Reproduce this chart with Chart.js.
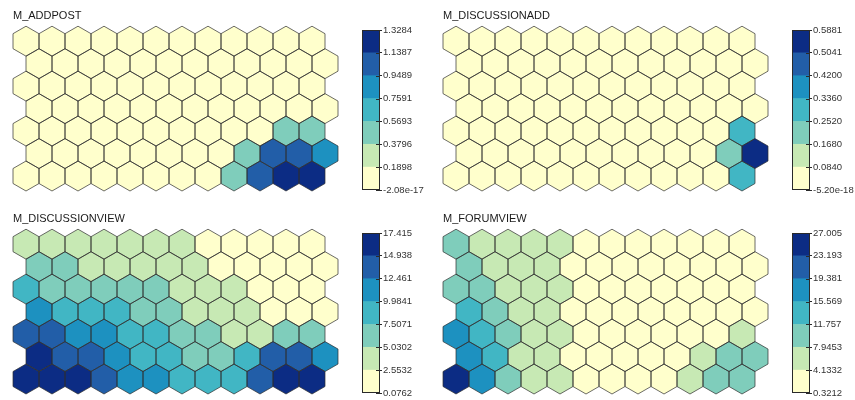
<!DOCTYPE html>
<html>
<head>
<meta charset="utf-8">
<script src="https://cdn.jsdelivr.net/npm/chart.js@4.4.0/dist/chart.umd.min.js"></script>
<style>
  html, body { margin: 0; padding: 0; background: #fff; }
  #page { position: relative; width: 855px; height: 400px; overflow: hidden; }
  .hexbox { position: absolute; width: 340px; height: 196px; }
  .barbox { position: absolute; width: 79px; height: 180px; }
</style>
</head>
<body>
<div id="page"></div>
<script>
// SOM component planes (kohonen style), 12 x 7 hex grid, rows listed top to bottom

const PALETTE = ["#ffffcc", "#c7e9b4", "#7fcdbb", "#41b6c4", "#1d91c0", "#225ea8", "#0c2c84"];

const addpostTicks = ["-2.08e-17", "0.1898", "0.3796", "0.5693", "0.7591", "0.9489", "1.1387", "1.3284"];
const addpostValues = [
  [0.01, 0.01, 0.01, 0.01, 0.01, 0.01, 0.01, 0.01, 0.01, 0.01, 0.01, 0.01],
  [0.01, 0.01, 0.01, 0.01, 0.01, 0.01, 0.01, 0.01, 0.01, 0.01, 0.01, 0.01],
  [0.02, 0.02, 0.02, 0.02, 0.02, 0.02, 0.02, 0.02, 0.02, 0.02, 0.02, 0.02],
  [0.03, 0.03, 0.03, 0.03, 0.03, 0.03, 0.03, 0.03, 0.03, 0.03, 0.03, 0.03],
  [0.02, 0.02, 0.02, 0.02, 0.02, 0.02, 0.03, 0.03, 0.04, 0.06, 0.47, 0.52],
  [0.03, 0.03, 0.03, 0.03, 0.03, 0.03, 0.04, 0.05, 0.45, 1.05, 1.08, 0.88],
  [0.04, 0.04, 0.04, 0.04, 0.04, 0.04, 0.05, 0.08, 0.50, 1.02, 1.25, 1.30]
];

const discAddTicks = ["-5.20e-18", "0.0840", "0.1680", "0.2520", "0.3360", "0.4200", "0.5041", "0.5881"];
const discAddValues = [
  [0.00, 0.00, 0.00, 0.00, 0.00, 0.00, 0.00, 0.00, 0.00, 0.00, 0.00, 0.00],
  [0.00, 0.00, 0.00, 0.00, 0.00, 0.00, 0.00, 0.00, 0.00, 0.00, 0.00, 0.00],
  [0.00, 0.00, 0.00, 0.00, 0.00, 0.00, 0.00, 0.00, 0.00, 0.00, 0.00, 0.00],
  [0.00, 0.00, 0.00, 0.00, 0.00, 0.00, 0.00, 0.00, 0.00, 0.00, 0.00, 0.01],
  [0.00, 0.00, 0.00, 0.00, 0.00, 0.00, 0.00, 0.00, 0.00, 0.00, 0.02, 0.30],
  [0.00, 0.00, 0.00, 0.00, 0.00, 0.00, 0.00, 0.00, 0.00, 0.01, 0.20, 0.57],
  [0.00, 0.00, 0.00, 0.00, 0.00, 0.00, 0.00, 0.00, 0.00, 0.01, 0.03, 0.29]
];

const discViewTicks = ["0.0762", "2.5532", "5.0302", "7.5071", "9.9841", "12.461", "14.938", "17.415"];
const discViewValues = [
  [3.1, 3.4, 3.6, 3.5, 3.3, 3.0, 2.8, 2.2, 1.8, 1.4, 1.1, 0.9],
  [5.6, 5.3, 4.6, 4.2, 3.9, 3.6, 3.2, 2.1, 1.7, 1.3, 1.0, 0.8],
  [8.1, 6.8, 6.5, 6.2, 5.8, 5.4, 4.4, 3.9, 3.3, 2.3, 1.6, 1.2],
  [10.6, 9.2, 8.8, 8.3, 7.2, 6.6, 4.8, 4.1, 3.6, 2.4, 1.9, 1.5],
  [13.8, 13.1, 11.6, 11.0, 9.5, 8.6, 6.9, 6.1, 4.5, 4.2, 5.6, 6.0],
  [16.4, 14.2, 13.3, 10.8, 8.9, 8.2, 6.7, 6.4, 7.9, 13.2, 13.6, 11.4],
  [17.2, 16.6, 15.5, 14.1, 11.5, 11.0, 9.0, 8.4, 8.0, 13.5, 16.3, 16.8]
];

const forumViewTicks = ["0.3212", "4.1332", "7.9453", "11.757", "15.569", "19.381", "23.193", "27.005"];
const forumViewValues = [
  [9.6, 6.4, 5.9, 5.5, 4.8, 3.6, 2.9, 2.4, 1.9, 1.5, 1.2, 0.9],
  [10.2, 6.8, 6.1, 5.2, 3.8, 3.0, 2.5, 2.0, 1.6, 1.3, 1.0, 0.8],
  [10.9, 9.8, 7.2, 6.3, 5.0, 3.5, 2.8, 2.2, 1.7, 1.4, 1.1, 0.9],
  [13.4, 10.5, 7.5, 6.0, 3.9, 3.2, 2.6, 2.1, 1.8, 1.5, 1.3, 1.2],
  [17.1, 13.6, 9.8, 6.9, 5.6, 3.7, 3.1, 2.5, 2.2, 2.4, 3.4, 5.8],
  [18.3, 14.2, 7.6, 6.2, 3.9, 3.4, 2.9, 2.6, 2.9, 5.1, 9.1, 9.6],
  [26.2, 17.8, 9.4, 6.6, 5.3, 3.8, 3.1, 2.8, 3.6, 6.3, 10.1, 10.6]
];

const panels = [
  { name: "M_ADDPOST", values: addpostValues, ticks: addpostTicks, left: 0, top: 0 },
  { name: "M_DISCUSSIONADD", values: discAddValues, ticks: discAddTicks, left: 430, top: 0 },
  { name: "M_DISCUSSIONVIEW", values: discViewValues, ticks: discViewTicks, left: 0, top: 203 },
  { name: "M_FORUMVIEW", values: forumViewValues, ticks: forumViewTicks, left: 430, top: 203 }
];

Chart.defaults.font.family = "'Liberation Sans', Arial, sans-serif";
Chart.defaults.animation = false;

const HEX_R = 1 / Math.sqrt(3);
const ROW_H = Math.sqrt(3) / 2;

function classOf(v, breaks) {
  for (let k = 0; k < PALETTE.length; k++) {
    if (v < breaks[k + 1]) return k;
  }
  return PALETTE.length - 1;
}

// draws the hexagon for every point, through the chart scales
const hexCells = {
  id: "hexCells",
  afterDatasetsDraw(chart) {
    const xs = chart.scales.x;
    const ys = chart.scales.y;
    const ctx = chart.ctx;
    const ds = chart.data.datasets[0];
    const paths = ds.data.map((p) => {
      const path = new Path2D();
      for (let k = 0; k < 6; k++) {
        const a = Math.PI / 6 + k * Math.PI / 3;
        const px = xs.getPixelForValue(p.x + HEX_R * Math.cos(a));
        const py = ys.getPixelForValue(p.y + HEX_R * Math.sin(a));
        if (k === 0) path.moveTo(px, py); else path.lineTo(px, py);
      }
      path.closePath();
      return path;
    });
    ctx.save();
    paths.forEach((path, i) => {
      ctx.fillStyle = ds.pointBackgroundColor[i];
      ctx.fill(path);
    });
    ctx.lineWidth = 1;
    ctx.strokeStyle = "rgba(45,45,45,0.7)";
    paths.forEach((path) => ctx.stroke(path));
    ctx.restore();
  }
};

// frame round the colour key, with the short inner tick marks
const keyFrame = {
  id: "keyFrame",
  afterDraw(chart) {
    const a = chart.chartArea;
    const ys = chart.scales.y;
    const ctx = chart.ctx;
    ctx.save();
    ctx.strokeStyle = "#2a2a2a";
    ctx.lineWidth = 1;
    ctx.strokeRect(Math.round(a.left) + 0.5, Math.round(a.top) + 0.5,
      Math.round(a.right - a.left) - 1, Math.round(a.bottom - a.top) - 1);
    ctx.beginPath();
    ys.ticks.forEach((t) => {
      const y = Math.round(ys.getPixelForValue(t.value)) + 0.5;
      ctx.moveTo(a.right - 4, y);
      ctx.lineTo(a.right, y);
    });
    ctx.stroke();
    ctx.restore();
  }
};

const page = document.getElementById("page");

panels.forEach((pn) => {
  const breaks = pn.ticks.map(Number);

  const points = [];
  const colors = [];
  pn.values.forEach((row, t) => {
    const r = pn.values.length - 1 - t;
    row.forEach((v, i) => {
      points.push({ x: i + (r % 2 ? 0.5 : 0), y: r * ROW_H, v: v });
      colors.push(PALETTE[classOf(v, breaks)]);
    });
  });

  const hexDiv = document.createElement("div");
  hexDiv.className = "hexbox";
  hexDiv.style.left = pn.left + "px";
  hexDiv.style.top = pn.top + "px";
  const hexCanvas = document.createElement("canvas");
  hexDiv.appendChild(hexCanvas);
  page.appendChild(hexDiv);

  new Chart(hexCanvas, {
    type: "scatter",
    data: {
      datasets: [{
        data: points,
        pointRadius: 0,
        pointBackgroundColor: colors
      }]
    },
    options: {
      responsive: true,
      maintainAspectRatio: false,
      events: [],
      layout: { padding: { left: 13, right: 2, top: 0, bottom: 5 } },
      scales: {
        x: { type: "linear", display: false, min: -0.5, max: 12.0 },
        y: { type: "linear", display: false, min: -HEX_R, max: 6 * ROW_H + HEX_R }
      },
      plugins: {
        legend: { display: false },
        tooltip: { enabled: false },
        title: {
          display: true,
          text: pn.name,
          align: "start",
          color: "#1a1a1a",
          font: { size: 11, weight: "normal" },
          padding: { top: 9, bottom: 4 }
        }
      }
    },
    plugins: [hexCells]
  });

  const barDiv = document.createElement("div");
  barDiv.className = "barbox";
  barDiv.style.left = (pn.left + 361) + "px";
  barDiv.style.top = (pn.top + 20) + "px";
  const barCanvas = document.createElement("canvas");
  barDiv.appendChild(barCanvas);
  page.appendChild(barDiv);

  new Chart(barCanvas, {
    type: "bar",
    data: {
      labels: [""],
      datasets: PALETTE.map((c, k) => ({
        data: [[breaks[k], breaks[k + 1]]],
        backgroundColor: c,
        borderWidth: 0,
        categoryPercentage: 1,
        barPercentage: 1
      }))
    },
    options: {
      responsive: true,
      maintainAspectRatio: false,
      events: [],
      layout: { padding: { left: 1, right: 0, top: 10, bottom: 10 } },
      scales: {
        x: { display: false, stacked: true },
        y: {
          type: "linear",
          position: "right",
          stacked: false,
          min: breaks[0],
          max: breaks[breaks.length - 1],
          afterBuildTicks: (s) => { s.ticks = breaks.map((b) => ({ value: b })); },
          afterFit: (s) => { s.width = 60; },
          grid: { drawOnChartArea: false, tickLength: 2, color: "#2a2a2a" },
          border: { display: false },
          ticks: {
            padding: 1,
            color: "#333",
            font: { size: 9.5 },
            autoSkip: false,
            callback: (v, i) => pn.ticks[i]
          }
        }
      },
      plugins: {
        legend: { display: false },
        tooltip: { enabled: false }
      }
    },
    plugins: [keyFrame]
  });
});
</script>
</body>
</html>
